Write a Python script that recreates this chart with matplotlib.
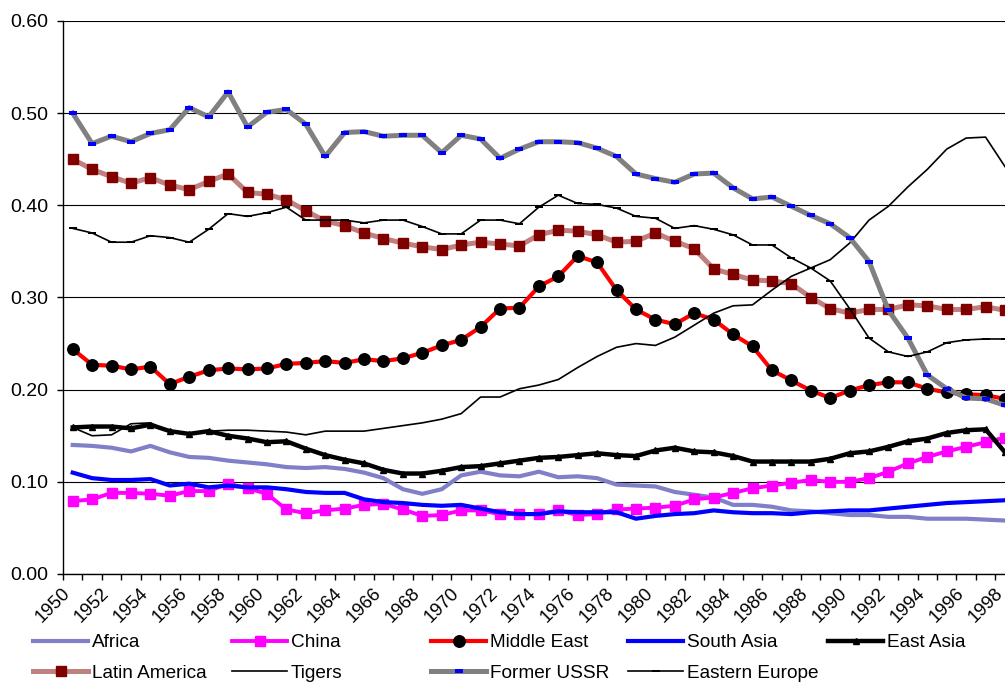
import numpy as np
import matplotlib
matplotlib.use('Agg')
from matplotlib import pyplot as plt
from matplotlib.ticker import FormatStrFormatter
from matplotlib.transforms import ScaledTranslation

plt.rcParams['font.family'] = ['Liberation Sans', 'DejaVu Sans']

years = list(range(1950, 1999))
tick_years = list(range(1950, 1999, 2))

africa = [0.140, 0.139, 0.137, 0.133, 0.139, 0.132, 0.127, 0.126, 0.123, 0.121,
          0.119, 0.116, 0.115, 0.116, 0.114, 0.110, 0.104, 0.092, 0.087, 0.092,
          0.107, 0.111, 0.107, 0.106, 0.111, 0.105, 0.106, 0.104, 0.097, 0.096,
          0.095, 0.089, 0.086, 0.083, 0.075, 0.075, 0.073, 0.069, 0.068, 0.066,
          0.064, 0.064, 0.062, 0.062, 0.060, 0.060, 0.060, 0.059, 0.058]
china = [0.079, 0.081, 0.088, 0.088, 0.087, 0.085, 0.090, 0.090, 0.098, 0.093,
         0.087, 0.070, 0.066, 0.069, 0.071, 0.075, 0.076, 0.070, 0.063, 0.064,
         0.069, 0.069, 0.065, 0.065, 0.065, 0.069, 0.064, 0.065, 0.070, 0.071,
         0.072, 0.074, 0.081, 0.083, 0.088, 0.093, 0.096, 0.099, 0.102, 0.100,
         0.100, 0.104, 0.111, 0.120, 0.127, 0.133, 0.138, 0.143, 0.148]
middle_east = [0.244, 0.227, 0.226, 0.222, 0.225, 0.206, 0.214, 0.221, 0.223, 0.222,
               0.223, 0.228, 0.229, 0.231, 0.229, 0.233, 0.231, 0.234, 0.240, 0.248,
               0.254, 0.268, 0.288, 0.289, 0.312, 0.323, 0.345, 0.338, 0.308, 0.287,
               0.276, 0.271, 0.283, 0.276, 0.260, 0.247, 0.221, 0.210, 0.199, 0.191,
               0.199, 0.205, 0.208, 0.208, 0.201, 0.197, 0.195, 0.194, 0.190]
south_asia = [0.110, 0.104, 0.102, 0.102, 0.103, 0.096, 0.098, 0.094, 0.096, 0.094,
              0.094, 0.092, 0.089, 0.088, 0.088, 0.081, 0.078, 0.077, 0.075, 0.074,
              0.075, 0.071, 0.067, 0.065, 0.065, 0.068, 0.067, 0.067, 0.067, 0.060,
              0.063, 0.065, 0.066, 0.069, 0.067, 0.066, 0.066, 0.065, 0.067, 0.068,
              0.069, 0.069, 0.071, 0.073, 0.075, 0.077, 0.078, 0.079, 0.080]
east_asia = [0.159, 0.160, 0.160, 0.158, 0.162, 0.155, 0.152, 0.155, 0.150, 0.147,
             0.143, 0.144, 0.136, 0.129, 0.124, 0.120, 0.113, 0.109, 0.109, 0.112,
             0.116, 0.117, 0.120, 0.123, 0.126, 0.127, 0.129, 0.131, 0.129, 0.128,
             0.134, 0.137, 0.133, 0.132, 0.128, 0.122, 0.122, 0.122, 0.122, 0.125,
             0.131, 0.133, 0.138, 0.144, 0.147, 0.153, 0.156, 0.157, 0.132]
latin_america = [0.450, 0.439, 0.431, 0.424, 0.430, 0.422, 0.417, 0.426, 0.434, 0.414,
                 0.412, 0.406, 0.394, 0.383, 0.378, 0.370, 0.364, 0.359, 0.355, 0.352,
                 0.357, 0.360, 0.358, 0.356, 0.368, 0.373, 0.372, 0.368, 0.360, 0.361,
                 0.370, 0.361, 0.353, 0.331, 0.325, 0.319, 0.318, 0.315, 0.300, 0.288,
                 0.283, 0.287, 0.287, 0.292, 0.291, 0.287, 0.287, 0.290, 0.286]
tigers = [0.159, 0.150, 0.151, 0.163, 0.164, 0.154, 0.153, 0.155, 0.156, 0.156,
          0.155, 0.154, 0.151, 0.155, 0.155, 0.155, 0.158, 0.161, 0.164, 0.168,
          0.174, 0.192, 0.192, 0.201, 0.205, 0.211, 0.224, 0.236, 0.246, 0.250,
          0.248, 0.257, 0.270, 0.283, 0.291, 0.292, 0.308, 0.323, 0.332, 0.341,
          0.359, 0.384, 0.399, 0.420, 0.439, 0.461, 0.473, 0.474, 0.442]
former_ussr = [0.500, 0.467, 0.475, 0.469, 0.478, 0.482, 0.506, 0.496, 0.523, 0.485,
               0.501, 0.504, 0.488, 0.453, 0.479, 0.480, 0.475, 0.476, 0.476, 0.457,
               0.476, 0.472, 0.451, 0.461, 0.469, 0.469, 0.468, 0.462, 0.453, 0.434,
               0.429, 0.425, 0.434, 0.435, 0.419, 0.407, 0.409, 0.399, 0.389, 0.380,
               0.365, 0.339, 0.286, 0.256, 0.216, 0.201, 0.191, 0.190, 0.183]
eastern_europe = [0.375, 0.370, 0.360, 0.360, 0.367, 0.365, 0.360, 0.374, 0.391, 0.388,
                  0.392, 0.398, 0.384, 0.384, 0.384, 0.381, 0.384, 0.384, 0.377, 0.369,
                  0.369, 0.384, 0.384, 0.380, 0.398, 0.411, 0.402, 0.401, 0.397, 0.388,
                  0.386, 0.375, 0.378, 0.374, 0.368, 0.357, 0.357, 0.343, 0.332, 0.318,
                  0.288, 0.256, 0.241, 0.236, 0.241, 0.251, 0.254, 0.255, 0.255]

# flat rectangle markers (excel "dash")
dash_wide = [(-1, -0.5), (1, -0.5), (1, 0.5), (-1, 0.5), (-1, -0.5)]
dash_thin = [(-1, -0.35), (1, -0.35), (1, 0.35), (-1, 0.35), (-1, -0.35)]

styles = [
    ('Africa', africa, dict(color='#8080C8', lw=3.0)),
    ('China', china, dict(color='#FF00FF', lw=2.8, marker='s', ms=7, mfc='#FF00FF', mec='#FF00FF')),
    ('Middle East', middle_east, dict(color='#FF0000', lw=3.0, marker='o', ms=8.3, mfc='black', mec='black')),
    ('South Asia', south_asia, dict(color='#0000FF', lw=3.0)),
    ('East Asia', east_asia, dict(color='black', lw=3.2, marker='^', ms=5, mfc='black', mec='black')),
    ('Latin America', latin_america, dict(color='#C08080', lw=3.6, marker='s', ms=6.5, mfc='#800000', mec='#800000')),
    ('Tigers', tigers, dict(color='black', lw=1.2)),
    ('Former USSR', former_ussr, dict(color='#808080', lw=3.6, marker=dash_wide, ms=6, mfc='#0000FF', mec='#0000FF', mew=0)),
    ('Eastern Europe', eastern_europe, dict(color='black', lw=1.2, marker=dash_thin, ms=6, mfc='black', mec='black', mew=0)),
]

fig = plt.figure(figsize=(10.05, 6.84), dpi=100)
ax = fig.add_axes([63 / 1005, 110 / 684, 942 / 1005, 553 / 684])

handles = {}
for name, vals, kw in styles:
    line, = ax.plot(years, vals, label=name, **kw)
    handles[name] = line

ax.set_xlim(1949.5, 1997.96)
ax.set_ylim(0, 0.6)
ax.set_yticks(np.arange(0, 0.61, 0.1))
ax.yaxis.set_major_formatter(FormatStrFormatter('%.2f'))
ax.yaxis.grid(True, color='black', lw=0.8)
ax.set_axisbelow(True)

# category boundaries as ticks, labels every 2 years
ax.set_xticks(np.arange(1949.5, 1998, 1))
ax.set_xticklabels([])
ax.set_xticks(tick_years, minor=True)
ax.set_xticklabels([str(y) for y in tick_years], minor=True, rotation=45,
                   ha='right', va='center', rotation_mode='anchor')
ax.tick_params(axis='x', which='major', direction='out', length=4, width=1)
ax.tick_params(axis='x', which='minor', length=0, pad=12, labelsize=13.3)
ax.tick_params(axis='y', direction='out', length=4.3, width=1, pad=6, labelsize=14)
shift = ScaledTranslation(-5 / 100, 0, fig.dpi_scale_trans)
for lab in ax.get_xticklabels(minor=True):
    lab.set_transform(lab.get_transform() + shift)

for s in ['top', 'right']:
    ax.spines[s].set_visible(False)
for s in ['left', 'bottom']:
    ax.spines[s].set_color('black')
    ax.spines[s].set_linewidth(1)

# legend laid out in fixed-width columns like excel does
columns = [
    (33, ['Africa', 'Latin America']),
    (232, ['China', 'Tigers']),
    (431, ['Middle East', 'Former USSR']),
    (628, ['South Asia', 'Eastern Europe']),
    (828, ['East Asia']),
]
for x0, names in columns:
    leg = fig.legend([handles[n] for n in names], names, loc='upper left',
                     bbox_to_anchor=(x0 / 1005, 1 - 634 / 684), frameon=False,
                     fontsize=13.7, numpoints=1, handlelength=2.9, handletextpad=0.2,
                     borderpad=0, borderaxespad=0, labelspacing=0.7)

fig.savefig('out.png', dpi=100)
